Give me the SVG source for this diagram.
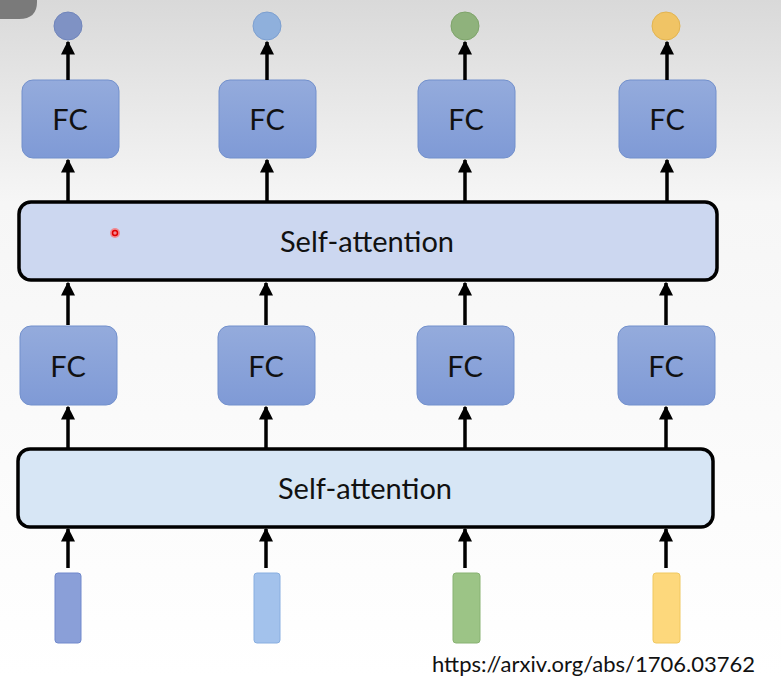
<svg xmlns="http://www.w3.org/2000/svg" width="781" height="676" viewBox="0 0 781 676">
<defs>
<linearGradient id="bg" x1="0" y1="0" x2="0" y2="1">
<stop offset="0" stop-color="#d9d9d9"/>
<stop offset="0.3" stop-color="#f6f6f6"/>
<stop offset="1" stop-color="#ffffff"/>
</linearGradient>
<linearGradient id="fc" x1="0" y1="0" x2="0" y2="1">
<stop offset="0" stop-color="#94abdc"/>
<stop offset="1" stop-color="#7f9ad6"/>
</linearGradient>
<marker id="ah" viewBox="0 0 10 10" refX="9" refY="5" markerWidth="4" markerHeight="4" orient="auto">
<path d="M0,0 L10,5 L0,10 z" fill="#000"/>
</marker>
<style>
.fc rect{fill:url(#fc);stroke:#7290cc;stroke-width:1}
.fc text{font-family:Lato,"Open Sans",sans-serif;font-size:29px;fill:#111;text-anchor:middle}
.sa rect{stroke:#000;stroke-width:3.5}
.sa text{font-family:Lato,"Open Sans",sans-serif;font-size:29px;fill:#111;text-anchor:middle}
#connectors line{stroke:#000;stroke-width:3.5;marker-end:url(#ah)}
</style>
</defs>
<rect width="781" height="676" fill="url(#bg)"/>
<path d="M0,0 H37 V2 Q37,19 19,19 H0 z" fill="#7a7a7a"/>

<g id="out1"><circle cx="68" cy="26" r="14" fill="#7f92c4" stroke="#7085bb"/></g>
<g id="out2"><circle cx="267" cy="26" r="14" fill="#8fb0dc" stroke="#7c9fd0"/></g>
<g id="out3"><circle cx="465" cy="26" r="14" fill="#8fb27c" stroke="#7ea46a"/></g>
<g id="out4"><circle cx="666" cy="26" r="14" fill="#f0c465" stroke="#e2b450"/></g>

<g id="fc_top1" class="fc"><rect x="22" y="80" width="97" height="78" rx="11"/><text x="70" y="130">FC</text></g>
<g id="fc_top2" class="fc"><rect x="219" y="80" width="97" height="78" rx="11"/><text x="267" y="130">FC</text></g>
<g id="fc_top3" class="fc"><rect x="418" y="80" width="97" height="78" rx="11"/><text x="466" y="130">FC</text></g>
<g id="fc_top4" class="fc"><rect x="619" y="80" width="97" height="78" rx="11"/><text x="667" y="130">FC</text></g>

<g id="sa_top" class="sa"><rect x="19" y="202" width="698" height="78" rx="12" fill="#ccd7f0"/><text x="367" y="252">Self-attention</text></g>

<g id="fc_mid1" class="fc"><rect x="20" y="326" width="97" height="79" rx="11"/><text x="68" y="377">FC</text></g>
<g id="fc_mid2" class="fc"><rect x="218" y="326" width="97" height="79" rx="11"/><text x="266" y="377">FC</text></g>
<g id="fc_mid3" class="fc"><rect x="417" y="326" width="97" height="79" rx="11"/><text x="465" y="377">FC</text></g>
<g id="fc_mid4" class="fc"><rect x="618" y="326" width="97" height="79" rx="11"/><text x="666" y="377">FC</text></g>

<g id="sa_bottom" class="sa"><rect x="18" y="449" width="695" height="78" rx="12" fill="#d7e6f5"/><text x="365" y="499">Self-attention</text></g>

<g id="in1"><rect x="55" y="573" width="26" height="70" rx="3" fill="#8a9fd8" stroke="#7088cc"/></g>
<g id="in2"><rect x="254" y="573" width="26" height="70" rx="3" fill="#a3c2ec" stroke="#88aee0"/></g>
<g id="in3"><rect x="453" y="573" width="27" height="70" rx="3" fill="#9cc486" stroke="#88b272"/></g>
<g id="in4"><rect x="653" y="573" width="27" height="70" rx="3" fill="#fdd87c" stroke="#f0c860"/></g>

<g id="connectors">
<line x1="68" y1="80" x2="68" y2="42"/>
<line x1="267" y1="80" x2="267" y2="42"/>
<line x1="465" y1="80" x2="465" y2="42"/>
<line x1="667" y1="80" x2="667" y2="42"/>
<line x1="68" y1="201" x2="68" y2="160"/>
<line x1="267" y1="201" x2="267" y2="160"/>
<line x1="465" y1="201" x2="465" y2="160"/>
<line x1="667" y1="201" x2="667" y2="160"/>
<line x1="68" y1="325" x2="68" y2="283"/>
<line x1="266" y1="325" x2="266" y2="283"/>
<line x1="465" y1="325" x2="465" y2="283"/>
<line x1="666" y1="325" x2="666" y2="283"/>
<line x1="68" y1="448" x2="68" y2="407"/>
<line x1="266" y1="448" x2="266" y2="407"/>
<line x1="465" y1="448" x2="465" y2="407"/>
<line x1="666" y1="448" x2="666" y2="407"/>
<line x1="68" y1="568" x2="68" y2="529"/>
<line x1="266" y1="568" x2="266" y2="529"/>
<line x1="465" y1="568" x2="465" y2="529"/>
<line x1="666" y1="568" x2="666" y2="529"/>
</g>

<circle cx="115" cy="233" r="5" fill="#ff6a6a" opacity="0.7"/>
<circle cx="115" cy="233" r="2.5" fill="none" stroke="#e00000" stroke-width="1.5"/>

<text x="432" y="672" font-family="Lato,'Open Sans',sans-serif" font-size="22" fill="#111">https://arxiv.org/abs/1706.03762</text>
</svg>
